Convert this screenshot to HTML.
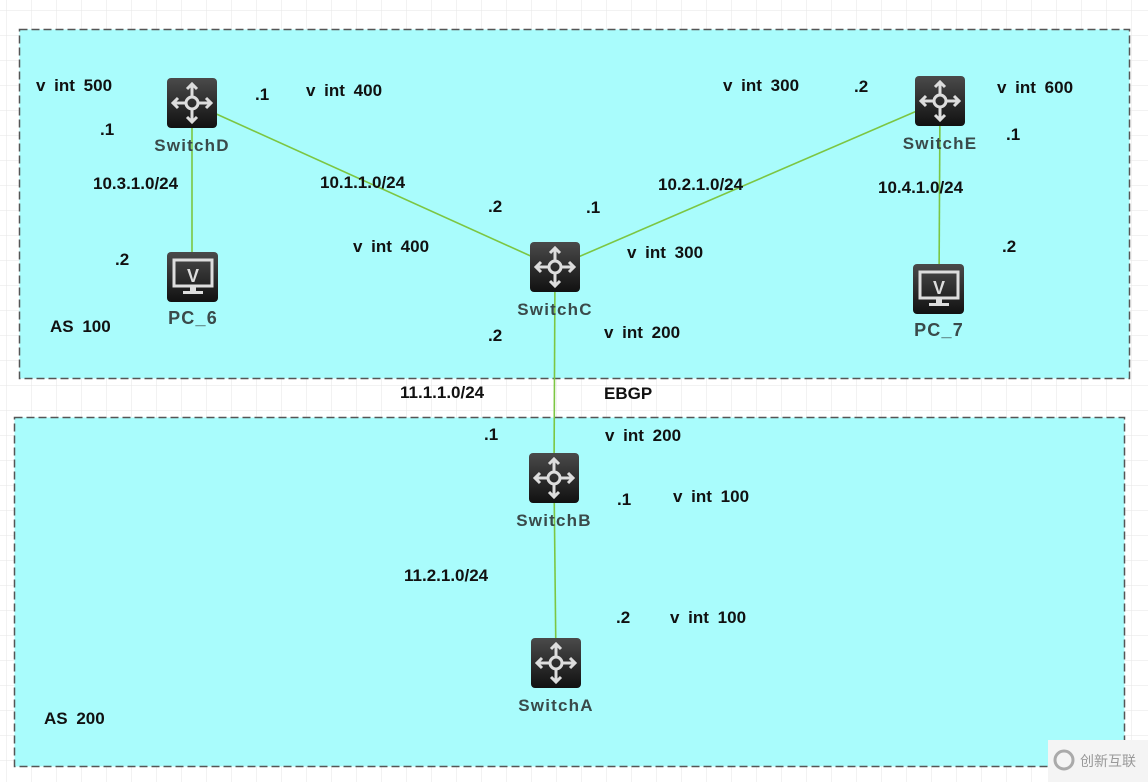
<!DOCTYPE html>
<html><head><meta charset="utf-8"><style>
html,body{margin:0;padding:0;width:1148px;height:782px;overflow:hidden;background:#fff}
svg text{font-family:"Liberation Sans",Arial,sans-serif;font-weight:bold}
</style></head><body>
<svg width="1148" height="782" xmlns="http://www.w3.org/2000/svg">
<defs>
<pattern id="g" width="25" height="25" patternUnits="userSpaceOnUse" x="6" y="10">
<path d="M25 0H0V25" fill="none" stroke="#e6e6e6" stroke-width="1"/>
</pattern>
<linearGradient id="ic" x1="0" y1="0" x2="0" y2="1"><stop offset="0" stop-color="#4a4a4a"/><stop offset="1" stop-color="#111"/></linearGradient>
<g id="sw">
<rect x="-25" y="-25" width="50" height="50" rx="4" fill="url(#ic)"/>
<g stroke="#ddd" stroke-width="3" fill="none">
<circle r="6"/>
<path d="M0 -6V-18M0 6V18M-6 0H-18M6 0H18"/>
<path d="M-5 -14L0 -19L5 -14M-5 14L0 19L5 14M-14 -5L-19 0L-14 5M14 -5L19 0L14 5"/>
</g>
</g>
<g id="pc">
<rect x="-26" y="-25" width="51" height="50" rx="4" fill="url(#ic)"/>
<rect x="-19" y="-17" width="38" height="26" fill="none" stroke="#ddd" stroke-width="3"/>
<text x="0" y="5" text-anchor="middle" font-size="18" fill="#ddd">V</text>
<rect x="-3" y="10" width="6" height="4" fill="#ddd"/>
<rect x="-10" y="14" width="20" height="3" fill="#ddd"/>
</g>
</defs>
<rect width="1148" height="782" fill="url(#g)"/>
<rect x="19.5" y="29.5" width="1110" height="349" fill="#a9fcfc" stroke="#555" stroke-width="1.5" stroke-dasharray="8,4"/>
<rect x="14.5" y="417.5" width="1110" height="349" fill="#a9fcfc" stroke="#555" stroke-width="1.5" stroke-dasharray="8,4"/>
<rect x="1048" y="740" width="100" height="42" fill="#f4f4f4"/>
<text x="1080" y="766" font-size="14" fill="#999" style="font-weight:normal;font-family:'Liberation Sans','Noto Sans CJK SC',sans-serif">创新互联</text>
<circle cx="1064" cy="760" r="9" fill="none" stroke="#aaa" stroke-width="3"/>
<g stroke="#7cc642" stroke-width="1.6" fill="none">
<line x1="192" y1="103" x2="555" y2="267"/>
<line x1="940" y1="101" x2="555" y2="267"/>
<line x1="192" y1="103" x2="192" y2="277"/>
<line x1="940" y1="101" x2="939" y2="289"/>
<line x1="555" y1="267" x2="554" y2="478"/>
<line x1="554" y1="478" x2="556" y2="663"/>
</g>
<use href="#sw" x="192" y="103"/>
<use href="#sw" x="940" y="101"/>
<use href="#sw" x="555" y="267"/>
<use href="#sw" x="554" y="478"/>
<use href="#sw" x="556" y="663"/>
<use href="#pc" x="193" y="277"/>
<use href="#pc" x="939" y="289"/>
<g font-size="17" fill="#3a4a4a" text-anchor="middle" letter-spacing="1.2">
<text x="192" y="151">SwitchD</text>
<text x="940" y="149">SwitchE</text>
<text x="555" y="315">SwitchC</text>
<text x="554" y="526">SwitchB</text>
<text x="556" y="711">SwitchA</text>
<text x="193" y="324" font-size="18">PC_6</text>
<text x="939" y="336" font-size="18">PC_7</text>
</g>
<g font-size="17" fill="#111" word-spacing="4">
<text x="36" y="91">v int 500</text>
<text x="100" y="135">.1</text>
<text x="255" y="100">.1</text>
<text x="306" y="96">v int 400</text>
<text x="93" y="189">10.3.1.0/24</text>
<text x="115" y="265">.2</text>
<text x="50" y="332">AS 100</text>
<text x="320" y="188">10.1.1.0/24</text>
<text x="488" y="212">.2</text>
<text x="353" y="252">v int 400</text>
<text x="586" y="213">.1</text>
<text x="627" y="258">v int 300</text>
<text x="658" y="190">10.2.1.0/24</text>
<text x="723" y="91">v int 300</text>
<text x="854" y="92">.2</text>
<text x="997" y="93">v int 600</text>
<text x="1006" y="140">.1</text>
<text x="878" y="193">10.4.1.0/24</text>
<text x="1002" y="252">.2</text>
<text x="488" y="341">.2</text>
<text x="604" y="338">v int 200</text>
<text x="400" y="398">11.1.1.0/24</text>
<text x="604" y="399">EBGP</text>
<text x="484" y="440">.1</text>
<text x="605" y="441">v int 200</text>
<text x="617" y="505">.1</text>
<text x="673" y="502">v int 100</text>
<text x="404" y="581">11.2.1.0/24</text>
<text x="616" y="623">.2</text>
<text x="670" y="623">v int 100</text>
<text x="44" y="724">AS 200</text>
</g>
</svg>
</body></html>
